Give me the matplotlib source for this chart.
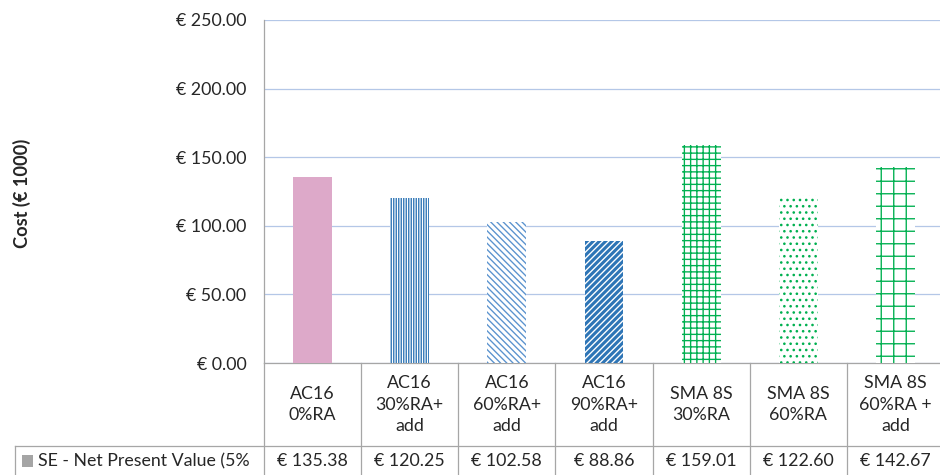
import matplotlib
matplotlib.use("Agg")
import matplotlib.pyplot as plt
from matplotlib.patches import Rectangle
from matplotlib.lines import Line2D

# mix designs and their net present value (k€)
categories = ["AC16\n0%RA", "AC16\n30%RA+\nadd", "AC16\n60%RA+\nadd", "AC16\n90%RA+\nadd",
              "SMA 8S\n30%RA", "SMA 8S\n60%RA", "SMA 8S\n60%RA +\nadd"]
npv = [135.38, 120.25, 102.58, 88.86, 159.01, 122.60, 142.67]
series_name = "SE - Net Present Value (5%"
yticks = [0, 50, 100, 150, 200, 250]

# per-bar fill: (face, hatch, hatch colour)
BLUE = "#2E75B6"
GREEN = "#00B050"
fills = [
    ("#DDA9C9", None, "#DDA9C9"),
    ("white", "|||||", BLUE),
    ("white", "\\\\\\\\", "#5B93CF"),
    (BLUE, "////", "white"),
    ("white", "++", GREEN),
    ("white", "..", GREEN),
    ("white", "+", GREEN),
]

plt.rcParams.update({
    "font.family": ["Lato", "DejaVu Sans"],
    "hatch.linewidth": 1.3,
})

W, H, DPI = 940, 475, 75
fig = plt.figure(figsize=(W / DPI, H / DPI), dpi=DPI)
fig.patch.set_facecolor("white")

# plot area in pixels: left 264, bottom 363 (from top), top 20
x0, xr, ytop, ybot = 264, 944, 20, 363
ax = fig.add_axes([x0 / W, (H - ybot) / H, (xr - x0) / W, (ybot - ytop) / H])

TXT = "#262626"
GRID = "#B4C7E7"
LINE = "#A6A6A6"

xs = list(range(len(npv)))
for x, v, (fc, hatch, hc) in zip(xs, npv, fills):
    ax.bar(x, v, width=0.40, color=fc, edgecolor=hc, linewidth=0,
           hatch=hatch, zorder=3)

ax.set_xlim(-0.5, len(npv) - 0.5)
ax.set_ylim(0, 250)
ax.set_yticks(yticks)
ax.set_yticklabels([f"€ {t:.2f}" for t in yticks], fontsize=17, color=TXT)
ax.tick_params(axis="y", length=0, pad=17)
ax.set_xticks([])
ax.grid(axis="y", color=GRID, lw=1.2, zorder=0)
for s in ("top", "right"):
    ax.spines[s].set_visible(False)
ax.spines["left"].set_color(LINE)
ax.spines["bottom"].set_color(LINE)
ax.spines["left"].set_linewidth(1.2)
ax.spines["bottom"].set_linewidth(1.2)

axw = xr - x0
axh = ybot - ytop
ax.set_ylabel("Cost (€ 1000)", fontsize=17.5, fontweight="bold", color=TXT)
ax.yaxis.set_label_coords((31 - x0) / axw, (ybot - 193) / axh)

# data table underneath the plot area
def yfrac(py):
    return (ybot - py) / axh

xt = ax.get_xaxis_transform()
row_split = 446
for i in range(len(npv) + 1):
    ax.add_line(Line2D([i - 0.5, i - 0.5], [0, yfrac(H + 5)], transform=xt,
                       color=LINE, lw=1.2, clip_on=False))
for x, lab, v in zip(xs, categories, npv):
    ax.text(x, yfrac(404.5), lab, transform=xt, ha="center", va="center",
            fontsize=17, color=TXT, linespacing=1.42, clip_on=False)
    ax.text(x, yfrac(461), f"€ {v:.2f}", transform=xt, ha="center", va="center",
            fontsize=17, color=TXT, clip_on=False)

# legend cell row
fig.add_artist(Line2D([15 / W, 1], [(H - row_split) / H] * 2, color=LINE, lw=1.2))
fig.add_artist(Line2D([15 / W, 15 / W], [(H - row_split) / H, 0], color=LINE, lw=1.2))
fig.add_artist(Rectangle((22 / W, (H - 467) / H), 11 / W, 12 / H,
                         facecolor="#A5A5A5", edgecolor="none"))
fig.text(38 / W, (H - 461) / H, series_name, ha="left", va="center",
         fontsize=17, color=TXT)

fig.savefig("out.png", dpi=DPI, facecolor="white")
